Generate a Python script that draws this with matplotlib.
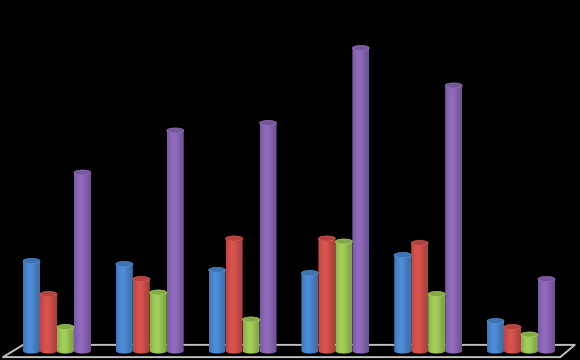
import numpy as np
import matplotlib
matplotlib.use("Agg")
import matplotlib.pyplot as plt
from matplotlib.patches import Ellipse, PathPatch
from matplotlib.path import Path
from matplotlib.colors import to_rgb

# values (arbitrary units)
categories = ["1", "2", "3", "4", "5", "6"]
blue = [30, 29, 27, 26, 32, 10]
red = [19, 24, 37.5, 37.5, 36, 8]
green = [8, 19.5, 10.5, 36.5, 19, 5.5]
purple = [59.5, 73.5, 76, 101, 88.5, 24]

series = [blue, red, green, purple]
colors = ["#4a86cf", "#d0504a", "#9bc655", "#8a66b5"]

BAR_W = 0.183
CAP_H = 1.7


def shade_strip(color, n=64):
    # soft horizontal gradient so the bar reads as a cylinder
    base = np.array(to_rgb(color))
    t = np.linspace(0, 1, n)
    f = 0.8 + 0.25 * np.exp(-((t - 0.4) / 0.38) ** 2)
    rgb = np.clip(base[None, :] * f[:, None], 0, 1)
    return rgb[None, :, :]


def cylinder(ax, xc, h, color):
    x0, x1 = xc - BAR_W / 2, xc + BAR_W / 2
    theta = np.linspace(np.pi, 2 * np.pi, 30)
    bottom = np.column_stack([xc + BAR_W / 2 * np.cos(theta),
                              CAP_H / 2 * np.sin(theta)])
    verts = np.vstack([[x0, h], [x0, 0], bottom, [x1, 0], [x1, h], [x0, h]])
    body = PathPatch(Path(verts), facecolor="none", edgecolor="none")
    ax.add_patch(body)
    img = ax.imshow(shade_strip(color), extent=[x0, x1, -CAP_H, h],
                    aspect="auto", interpolation="bilinear", zorder=2)
    img.set_clip_path(body)
    base = np.array(to_rgb(color))
    top = Ellipse((xc, h), BAR_W, CAP_H, facecolor=base * 0.85,
                  edgecolor=np.clip(base * 1.05, 0, 1), lw=0.5, zorder=3)
    ax.add_patch(top)


fig = plt.figure(figsize=(5.8, 3.6), dpi=100, facecolor="black")
ax = fig.add_axes([0, 0, 1, 1])
ax.set_facecolor("black")
ax.set_xlim(-0.614, 5.636)
ax.set_ylim(-3, 117)
ax.axis("off")

# floor of the 3D plot area
floor_x = [0.040, 0.991, 0.966, 0.005, 0.040]
floor_y = [0.042, 0.042, 0.008, 0.008, 0.042]
ax.plot(floor_x, floor_y, color="#bfbfbf", lw=1.4, transform=ax.transAxes, zorder=1)

for g in range(len(categories)):
    for i, (vals, c) in enumerate(zip(series, colors)):
        cylinder(ax, g + (i - 1.5) * BAR_W, vals[g], c)

ax.set_xlim(-0.614, 5.636)
ax.set_ylim(-3, 117)

fig.savefig("out.png", dpi=100, facecolor="black")
